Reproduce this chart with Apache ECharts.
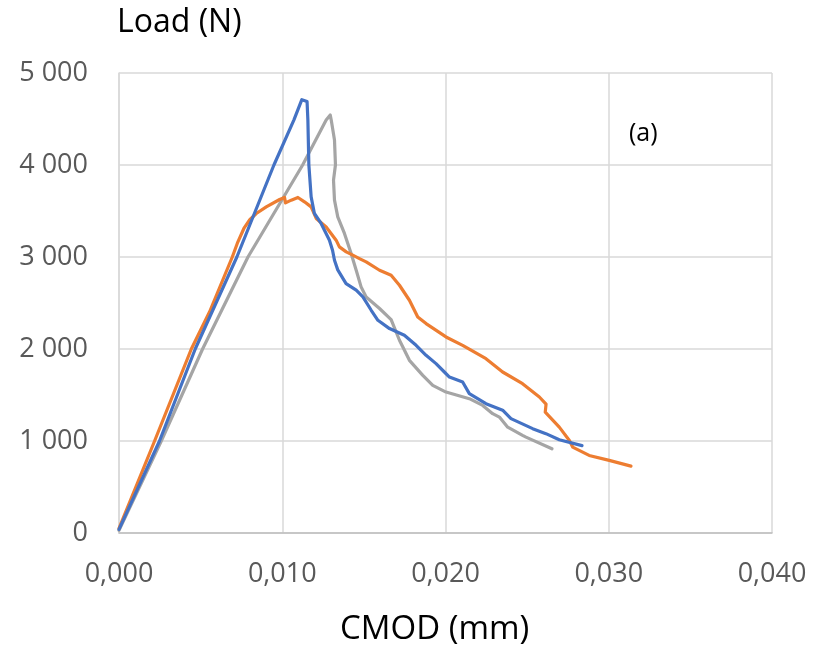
<!DOCTYPE html>
<html>
<head>
<meta charset="utf-8">
<script src="https://cdn.jsdelivr.net/npm/echarts@6/dist/echarts.min.js"></script>
<style>html,body{margin:0;padding:0;background:#fff}#c{width:816px;height:666px}</style>
</head>
<body>
<div id="c"></div>
<script>
var xTicks = [0, 0.01, 0.02, 0.03, 0.04];
var yTicks = [0, 1000, 2000, 3000, 4000, 5000];

var blueX = [0, 0.00248, 0.00467, 0.00722, 0.00949, 0.01071, 0.0112, 0.01132, 0.01152, 0.01157, 0.01163, 0.01177, 0.01197, 0.01238, 0.01289, 0.01308, 0.0132, 0.0134, 0.01391, 0.01453, 0.01494, 0.01545, 0.01586, 0.01657, 0.01748, 0.0182, 0.01881, 0.01942, 0.01993, 0.02024, 0.02105, 0.02146, 0.02248, 0.0235, 0.02401, 0.02534, 0.02615, 0.02697, 0.02836];
var blueY = [40, 1000, 2000, 3000, 4000, 4488, 4710, 4731, 4690, 4488, 4002, 3654, 3473, 3365, 3183, 3074, 2965, 2860, 2711, 2639, 2566, 2421, 2312, 2222, 2149, 2040, 1931, 1841, 1750, 1695, 1641, 1515, 1406, 1335, 1243, 1134, 1080, 1014, 950];

var orangeX = [0, 0.00218, 0.00443, 0.00555, 0.00694, 0.00725, 0.00765, 0.00801, 0.00841, 0.00902, 0.00984, 0.01014, 0.0102, 0.01055, 0.01096, 0.01136, 0.01177, 0.01208, 0.01269, 0.0133, 0.0135, 0.01392, 0.01432, 0.01473, 0.01514, 0.01596, 0.01667, 0.01718, 0.01779, 0.0183, 0.01881, 0.02003, 0.02105, 0.02248, 0.0235, 0.02472, 0.02575, 0.02616, 0.02611, 0.02697, 0.02759, 0.02779, 0.0288, 0.03003, 0.03136];
var orangeY = [50, 1000, 2000, 2405, 3000, 3150, 3310, 3405, 3473, 3545, 3625, 3647, 3588, 3618, 3647, 3600, 3545, 3419, 3327, 3183, 3110, 3056, 3020, 2983, 2947, 2856, 2802, 2693, 2530, 2348, 2276, 2131, 2040, 1895, 1750, 1623, 1478, 1400, 1314, 1151, 1006, 934, 843, 789, 727];

var grayX = [0, 0.00259, 0.00512, 0.0079, 0.01125, 0.01269, 0.01294, 0.013, 0.0132, 0.01326, 0.01314, 0.0132, 0.0134, 0.01381, 0.01422, 0.01453, 0.01483, 0.01514, 0.01596, 0.01667, 0.01718, 0.01779, 0.01861, 0.01922, 0.02003, 0.02146, 0.02228, 0.02289, 0.0233, 0.02381, 0.02472, 0.02493, 0.02652];
var grayY = [30, 1000, 2000, 3000, 4000, 4488, 4543, 4488, 4271, 4002, 3836, 3618, 3436, 3256, 3038, 2856, 2675, 2566, 2440, 2320, 2095, 1877, 1714, 1605, 1532, 1460, 1387, 1297, 1260, 1150, 1061, 1042, 916];

function zip(xs, ys) { return xs.map(function (x, i) { return [x, ys[i]]; }); }

var chart = echarts.init(document.getElementById('c'), null, {renderer: 'canvas'});
var font = '"Open Sans", "Noto Sans", sans-serif';
function lineSeries(name, xs, ys, color) {
  return {
    name: name, type: 'line', data: zip(xs, ys), showSymbol: false, symbol: 'none',
    lineStyle: {color: color, width: 3.2, join: 'round', cap: 'round'}, itemStyle: {color: color}, smooth: false, animation: false
  };
}
chart.setOption({
  animation: false,
  backgroundColor: '#ffffff',
  grid: {left: 119, right: 44, top: 73, bottom: 133, containLabel: false},
  xAxis: {
    type: 'value', min: xTicks[0], max: xTicks[xTicks.length - 1], interval: 0.01,
    axisLine: {show: true, lineStyle: {color: '#BFBFBF', width: 1.5}},
    axisTick: {show: false},
    splitLine: {show: true, lineStyle: {color: '#D9D9D9', width: 1.5}},
    axisLabel: {
      color: '#595959', fontSize: 27, fontFamily: font, margin: 28,
      formatter: function (v) { return v.toFixed(3).replace('.', ','); }
    }
  },
  yAxis: {
    type: 'value', min: yTicks[0], max: yTicks[yTicks.length - 1], interval: 1000,
    axisLine: {show: true, lineStyle: {color: '#D9D9D9', width: 1.5}},
    axisTick: {show: false},
    splitLine: {show: true, lineStyle: {color: '#D9D9D9', width: 1.5}},
    axisLabel: {
      color: '#595959', fontSize: 27, fontFamily: font, margin: 31,
      formatter: function (v) { return String(v).replace(/\B(?=(\d{3})+(?!\d))/g, ' '); }
    }
  },
  graphic: [
    {type: 'text', left: 117, top: 7, style: {text: 'Load (N)', fontSize: 32, fontFamily: font, fill: '#000000'}},
    {type: 'text', left: 340, top: 613, style: {text: 'CMOD (mm)', fontSize: 33, fontFamily: font, fill: '#000000'}},
    {type: 'text', left: 629, top: 121, style: {text: '(a)', fontSize: 25, fontFamily: font, fill: '#000000'}}
  ],
  series: [
    lineSeries('gray', grayX, grayY, '#A5A5A5'),
    lineSeries('orange', orangeX, orangeY, '#ED7D31'),
    lineSeries('blue', blueX, blueY, '#4472C4')
  ]
});
</script>
</body>
</html>
